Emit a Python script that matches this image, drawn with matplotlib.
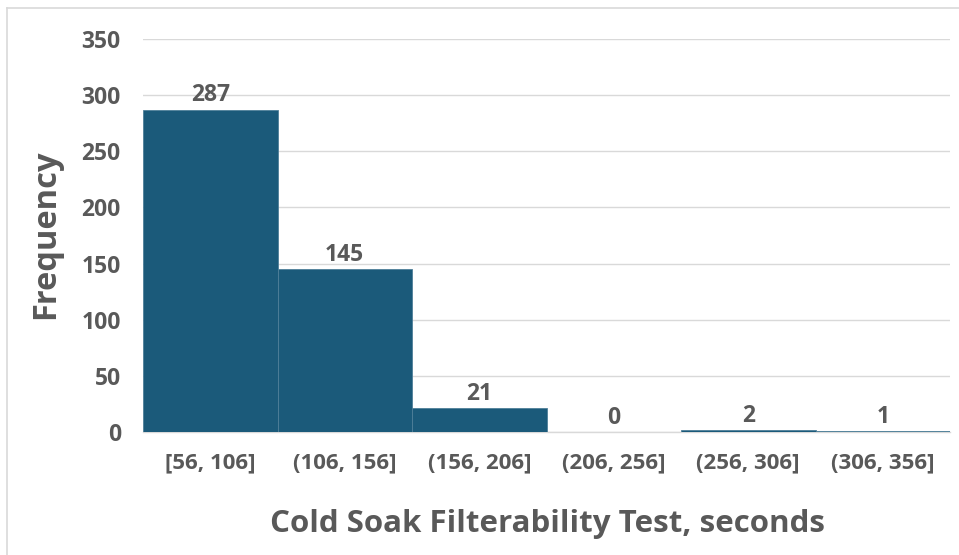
import matplotlib
matplotlib.use("Agg")
import matplotlib.pyplot as plt
from matplotlib.lines import Line2D

bins = ["[56, 106]", "(106, 156]", "(156, 206]", "(206, 256]", "(256, 306]", "(306, 356]"]
counts = [287, 145, 21, 0, 2, 1]
yticks = [0, 50, 100, 150, 200, 250, 300, 350]

plt.rcParams['font.family'] = ['Open Sans', 'DejaVu Sans']
TXT = '#595959'
BAR = '#1b5a7a'
GRID = '#d9d9d9'

fig = plt.figure(figsize=(9.59, 5.55), dpi=100)
ax = fig.add_axes([143/959, 1-432/555, (950-143)/959, (432-39)/555])

x = list(range(len(bins)))
bars = ax.bar(x, counts, width=1.0, color=BAR, edgecolor='#4f7f99', linewidth=0.6, zorder=3)
for xi, c in zip(x, counts):
    ax.text(xi, c + 2, str(c), ha='center', va='bottom', fontsize=16.5, fontweight='bold', color=TXT, zorder=4)

ax.set_xlim(-0.5, len(bins) - 0.5)
ax.set_ylim(0, 350)
ax.set_yticks(yticks)
ax.set_xticks(x)
ax.set_xticklabels(bins)
ax.grid(axis='y', color=GRID, linewidth=1, zorder=0)
for s in ['top', 'right', 'left']:
    ax.spines[s].set_visible(False)
ax.spines['bottom'].set_color(GRID)
ax.spines['bottom'].set_linewidth(1)
ax.spines['bottom'].set_zorder(2)
ax.tick_params(axis='both', length=0, colors=TXT)
ax.tick_params(axis='y', pad=16)
ax.tick_params(axis='x', pad=15)
for lab in ax.get_yticklabels():
    lab.set_fontsize(16.5); lab.set_fontweight('bold'); lab.set_color(TXT)
for lab in ax.get_xticklabels():
    lab.set_fontsize(16); lab.set_fontweight('bold'); lab.set_color(TXT)

fig.text(547/959, 1-524/555, "Cold Soak Filterability Test, seconds", ha='center', va='center',
         fontsize=22.5, fontweight='bold', color=TXT)
fig.text(46/959, 1-234/555, "Frequency", ha='center', va='center', rotation=90,
         fontsize=23.5, fontweight='bold', color=TXT)

# chart border (top and left)
fig.add_artist(Line2D([7/959, 1], [1-8/555, 1-8/555], transform=fig.transFigure, color=GRID, linewidth=1.2))
fig.add_artist(Line2D([7/959, 7/959], [0, 1-8/555], transform=fig.transFigure, color=GRID, linewidth=1.2))

fig.savefig("out.png", dpi=100)
